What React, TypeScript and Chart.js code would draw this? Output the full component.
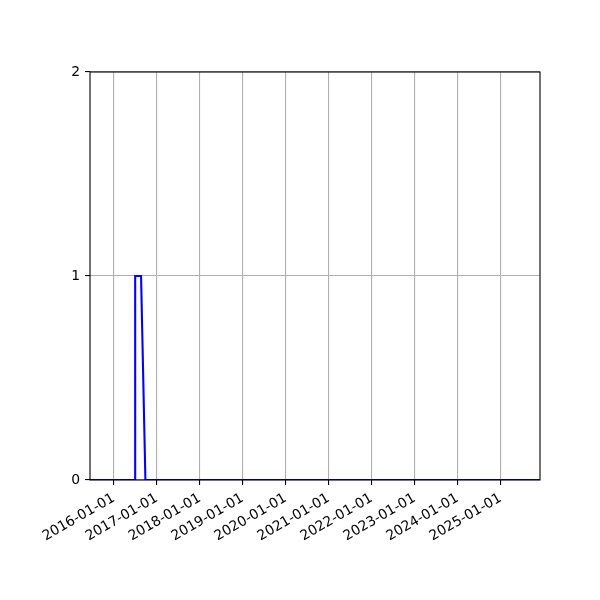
import React, { useEffect, useRef } from "react";
import { Chart, registerables } from "chart.js";

Chart.register(...registerables);

const dates = ["2015-06-13", "2016-06-30", "2016-07-01", "2016-08-20", "2016-09-26", "2025-12-02"];
const values = [0, 0, 1, 1, 0, 0];
const tickYears = [2016, 2017, 2018, 2019, 2020, 2021, 2022, 2023, 2024, 2025];
const yTicks = [0, 1, 2];

const toMs = (s: string) => {
  const [y, m, d] = s.split("-").map(Number);
  return Date.UTC(y, m - 1, d);
};

const pad2 = (n: number) => (n < 10 ? "0" + n : "" + n);
const fmt = (ms: number) => {
  const d = new Date(ms);
  return `${d.getUTCFullYear()}-${pad2(d.getUTCMonth() + 1)}-${pad2(d.getUTCDate())}`;
};

const frame = {
  id: "frame",
  afterDraw(chart: any) {
    const { ctx, chartArea } = chart;
    ctx.save();
    ctx.strokeStyle = "#000";
    ctx.lineWidth = 1.1;
    ctx.strokeRect(chartArea.left, chartArea.top, chartArea.right - chartArea.left, chartArea.bottom - chartArea.top);
    ctx.restore();
  },
};

export default function App() {
  const ref = useRef<HTMLCanvasElement | null>(null);
  useEffect(() => {
    document.body.style.margin = "0";
    const font = { family: "DejaVu Sans", size: 13.9 };
    const chart = new Chart(ref.current!, {
      type: "line",
      data: {
        datasets: [
          {
            data: dates.map((d, i) => ({ x: toMs(d), y: values[i] })),
            borderColor: "#0000ff",
            borderWidth: 2.08,
            pointRadius: 0,
            tension: 0,
            fill: false,
          },
        ],
      },
      options: {
        animation: false,
        responsive: false,
        devicePixelRatio: 1,
        layout: { padding: { top: 72, right: 60, left: 0, bottom: 0 } },
        plugins: { legend: { display: false }, tooltip: { enabled: false } },
        scales: {
          x: {
            type: "linear",
            min: toMs(dates[0]),
            max: toMs(dates[dates.length - 1]),
            afterBuildTicks: (scale: any) => {
              scale.ticks = tickYears.map((y) => ({ value: Date.UTC(y, 0, 1) }));
            },
            afterFit: (scale: any) => {
              scale.height = 120;
            },
            ticks: {
              callback: (v: any) => fmt(Number(v)),
              minRotation: 30,
              maxRotation: 30,
              autoSkip: false,
              color: "#000",
              font,
              padding: 5,
            },
            grid: { color: "#b0b0b0", lineWidth: 1.1, tickColor: "#000", tickLength: 5 },
            border: { display: false },
          },
          y: {
            type: "linear",
            min: 0,
            max: 2,
            afterBuildTicks: (scale: any) => {
              scale.ticks = yTicks.map((v) => ({ value: v }));
            },
            afterFit: (scale: any) => {
              scale.width = 90;
            },
            ticks: { color: "#000", font, padding: 5 },
            grid: { color: "#b0b0b0", lineWidth: 1.1, tickColor: "#000", tickLength: 5 },
            border: { display: false },
          },
        },
      },
      plugins: [frame],
    } as any);
    return () => chart.destroy();
  }, []);
  return <canvas ref={ref} width={600} height={600} style={{ display: "block" }} />;
}
